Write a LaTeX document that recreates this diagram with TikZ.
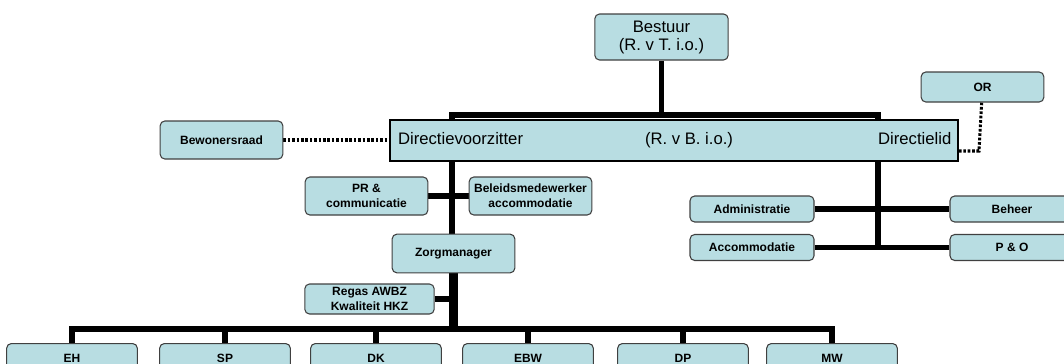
\documentclass[tikz,border=0pt]{standalone}
\usepackage{fontspec}
\setmainfont{Liberation Sans}
\usetikzlibrary{backgrounds}
\definecolor{boxblue}{RGB}{184,221,226}

\begin{document}
\begin{tikzpicture}[x=0.75pt, y=-0.75pt]

\tikzstyle{unit} = [rectangle, rounded corners=3.5pt, draw=black!75, line width=0.8pt, fill=boxblue, align=center, inner sep=1pt, font=\fontsize{9}{11}\selectfont\bfseries]
\tikzstyle{big} = [font=\fontsize{12.5}{13.5}\selectfont]
\tikzstyle{headline} = [big, text height=9pt, text depth=2.5pt]
\tikzstyle{leaf} = [unit, anchor=north, minimum width=98pt, text height=6.5pt, text depth=20pt, inner ysep=8pt]
\tikzstyle{link} = [line width=4pt]
\tikzstyle{trunk} = [line width=6.5pt]
\tikzstyle{dotlink} = [line width=2.3pt, dash pattern=on 2pt off 1.3pt]

\useasboundingbox (0,0) rectangle (1064,364);

\node[unit, big, minimum width=100pt, minimum height=34.5pt] (bestuur) at (661.5,37) {Bestuur\\(R. v T. i.o.)};

\node[rectangle, draw=black, line width=1pt, fill=boxblue, minimum width=426pt, minimum height=30.75pt, inner sep=0pt] (directie) at (674,140.5) {};
\node[headline, anchor=west] (voorzitter) at ([xshift=3pt]directie.west) {Directievoorzitter};
\node[headline] (rvb) at (689,140.5) {(R. v B. i.o.)};
\node[headline, anchor=east] (directielid) at ([xshift=-2pt]directie.east) {Directielid};

\node[unit, minimum width=92pt, minimum height=28.5pt] (bewoners) at (221.5,140) {Bewonersraad};
\node[unit, minimum width=92pt, minimum height=22.5pt] (or) at (982.5,87) {OR};

\node[unit, minimum width=92pt, minimum height=28.5pt] (pr) at (366.5,196) {PR \&\\communicatie};
\node[unit, minimum width=92pt, minimum height=28.5pt] (beleid) at (530.5,196) {Beleidsmedewerker\\accommodatie};
\node[unit, minimum width=92pt, minimum height=29pt] (zorg) at (453.5,253.5) {Zorgmanager};
\node[unit, minimum width=97pt, minimum height=22.5pt] (regas) at (369.5,299) {Regas AWBZ\\Kwaliteit HKZ};

\node[unit, minimum width=93pt, minimum height=19.5pt] (admin) at (752,209) {Administratie};
\node[unit, minimum width=93pt, minimum height=19.5pt] (accom) at (752,247.5) {Accommodatie};
\node[unit, minimum width=93pt, minimum height=19.5pt] (beheer) at (1012,209) {Beheer};
\node[unit, minimum width=93pt, minimum height=19.5pt] (peno) at (1012,247.5) {P \& O};

\node[leaf] (eh) at (72,343) {EH};
\node[leaf] (sp) at (225,343) {SP};
\node[leaf] (dk) at (376,343) {DK};
\node[leaf] (ebw) at (528,343) {EBW};
\node[leaf] (dp) at (683,343) {DP};
\node[leaf] (mw) at (832,343) {MW};

\coordinate (topleft) at (452,115);
\coordinate (topright) at (878,115);
\coordinate (barleft) at (72,329);
\coordinate (barright) at (832,329);
\coordinate (orbend) at (979,151);

\begin{scope}[on background layer]
\draw[link] (bestuur) -- (bestuur |- topleft);
\draw[link] (topright |- accom) -- (topright) -- (topleft) -- (topleft |- zorg.north);
\draw[link] (pr) -- (beleid);
\draw[link] (admin) -- (beheer);
\draw[link] (accom) -- (peno);
\draw[trunk] (zorg) -- (zorg |- barleft);
\draw[link] (regas) -- (regas -| zorg);

\draw[link] (eh.north) -- (barleft) -- (barright) -- (mw.north);
\draw[link] (sp) -- (sp |- barleft);
\draw[link] (dk) -- (dk |- barleft);
\draw[link] (ebw) -- (ebw |- barleft);
\draw[link] (dp) -- (dp |- barleft);

\draw[dotlink] (bewoners) -- (directie.west |- bewoners);
\draw[dotlink] (or) -- (orbend) -- (orbend -| directie.east);
\end{scope}
\end{tikzpicture}
\end{document}
